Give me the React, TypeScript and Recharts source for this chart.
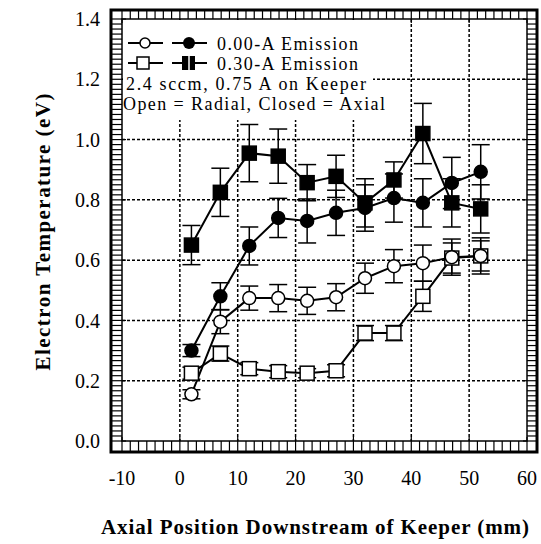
import { LineChart, Line, XAxis, YAxis, CartesianGrid, ErrorBar } from "recharts";

// axial position (mm) of each probe station
const positions = [2, 7, 12, 17, 22, 27, 32, 37, 42, 47, 52];

// electron temperature (eV) and uncertainty for each run
const axial030 = [0.65, 0.825, 0.955, 0.945, 0.857, 0.878, 0.79, 0.866, 1.02, 0.79, 0.77];
const axial030Err = [0.065, 0.08, 0.095, 0.09, 0.06, 0.07, 0.08, 0.06, 0.1, 0.08, 0.08];
const axial000 = [0.3, 0.48, 0.647, 0.74, 0.73, 0.757, 0.773, 0.806, 0.79, 0.856, 0.893];
const axial000Err = [0.02, 0.045, 0.063, 0.065, 0.073, 0.075, 0.077, 0.08, 0.08, 0.085, 0.09];
const radial000 = [0.155, 0.396, 0.474, 0.474, 0.465, 0.477, 0.54, 0.58, 0.59, 0.61, 0.614];
const radial000Err = [0.015, 0.04, 0.04, 0.045, 0.045, 0.045, 0.05, 0.055, 0.06, 0.06, 0.06];
const radial030 = [0.225, 0.29, 0.24, 0.23, 0.225, 0.233, 0.358, 0.358, 0.48, 0.607, 0.614];
const radial030Err = [0.02, 0.025, 0.02, 0.02, 0.015, 0.02, 0.025, 0.025, 0.05, 0.05, 0.05];

const X_DOMAIN: [number, number] = [-10, 60];
const Y_DOMAIN: [number, number] = [0, 1.4];
const xMajor = [-10, 0, 10, 20, 30, 40, 50, 60];
const yMajor = [0, 0.2, 0.4, 0.6, 0.8, 1.0, 1.2, 1.4];
const xGrid = [0, 10, 20, 30, 40, 50];
const yGrid = [0.2, 0.4, 0.6, 0.8, 1.0, 1.2];

// minor ticks: 7 per x division, 12 per y division
const X_MINOR = 7;
const Y_MINOR = 12;

const data = positions.map((x, i) => ({
  x,
  axial030: axial030[i],
  axial030Err: axial030Err[i],
  axial000: axial000[i],
  axial000Err: axial000Err[i],
  radial000: radial000[i],
  radial000Err: radial000Err[i],
  radial030: radial030[i],
  radial030Err: radial030Err[i],
}));

// plot box in page pixels; the outer frame sits a band outside it
const W = 541;
const H = 544;
const BOX = { left: 122, right: 527, top: 19, bottom: 441 };
const BAND = { left: 11, right: 10, top: 9, bottom: 11 };

const FONT = "Liberation Serif, Times New Roman, serif";

const px = (v: number) =>
  BOX.left + ((v - X_DOMAIN[0]) / (X_DOMAIN[1] - X_DOMAIN[0])) * (BOX.right - BOX.left);
const py = (v: number) =>
  BOX.bottom - ((v - Y_DOMAIN[0]) / (Y_DOMAIN[1] - Y_DOMAIN[0])) * (BOX.bottom - BOX.top);

// grid lines only at the major divisions, placed inside the plot offset
const gridY = ({ offset }: any) =>
  yGrid.map((v) => offset.top + offset.height * (1 - (v - Y_DOMAIN[0]) / (Y_DOMAIN[1] - Y_DOMAIN[0])));
const gridX = ({ offset }: any) =>
  xGrid.map((v) => offset.left + (offset.width * (v - X_DOMAIN[0])) / (X_DOMAIN[1] - X_DOMAIN[0]));

const XLabel = (p: any) => (
  <text x={p.x} y={p.y} dy="0.71em" textAnchor="middle" fontFamily={FONT} fontSize={20} fill="#000">
    {String(p.payload.value)}
  </text>
);

const YLabel = (p: any) => (
  <text x={p.x} y={p.y} dy="0.355em" textAnchor="end" fontFamily={FONT} fontSize={20} fill="#000">
    {Number(p.payload.value).toFixed(1)}
  </text>
);

const circle = (filled: boolean) => (p: any) => (
  <circle
    key={`c${p.index}`}
    cx={p.cx}
    cy={p.cy}
    r={6.5}
    fill={filled ? "#000" : "#fff"}
    stroke="#000"
    strokeWidth={1.5}
  />
);

const square = (filled: boolean) => (p: any) => (
  <rect
    key={`s${p.index}`}
    x={p.cx - 7}
    y={p.cy - 7}
    width={14}
    height={14}
    fill={filled ? "#000" : "#fff"}
    stroke="#000"
    strokeWidth={1.5}
  />
);

// the ruled "ladder" border: inner box, outer box and ticks joining them
function Frame() {
  const marks = [];
  const xSpan = xMajor.length - 1;
  for (let i = 0; i <= xSpan * X_MINOR; i++) {
    const major = i % X_MINOR === 0;
    const x = px(X_DOMAIN[0] + (i * 10) / X_MINOR);
    const inset = major ? 4 : 0;
    marks.push(<line key={`b${i}`} x1={x} x2={x} y1={BOX.bottom - inset} y2={BOX.bottom + BAND.bottom} />);
    marks.push(<line key={`t${i}`} x1={x} x2={x} y1={BOX.top + inset} y2={BOX.top - BAND.top} />);
  }
  const ySpan = yMajor.length - 1;
  for (let i = 0; i <= ySpan * Y_MINOR; i++) {
    const major = i % Y_MINOR === 0;
    const y = py(Y_DOMAIN[0] + (i * 0.2) / Y_MINOR);
    const inset = major ? 4 : 0;
    marks.push(<line key={`l${i}`} x1={BOX.left + inset} x2={BOX.left - BAND.left} y1={y} y2={y} />);
    marks.push(<line key={`r${i}`} x1={BOX.right - inset} x2={BOX.right + BAND.right} y1={y} y2={y} />);
  }
  return (
    <g fill="none" stroke="#000">
      <g strokeWidth={1.2}>{marks}</g>
      <rect
        x={BOX.left}
        y={BOX.top}
        width={BOX.right - BOX.left}
        height={BOX.bottom - BOX.top}
        strokeWidth={1.5}
      />
      <rect
        x={BOX.left - BAND.left}
        y={BOX.top - BAND.top}
        width={BOX.right - BOX.left + BAND.left + BAND.right}
        height={BOX.bottom - BOX.top + BAND.top + BAND.bottom}
        strokeWidth={3}
      />
    </g>
  );
}

export default function App() {
  return (
    <div style={{ position: "absolute", left: 0, top: 0, width: W, height: H, background: "#fff" }}>
      <LineChart
        width={W}
        height={H}
        data={data}
        margin={{ top: BOX.top, right: W - BOX.right, bottom: 0, left: 0 }}
      >
        <CartesianGrid
          stroke="#000"
          strokeWidth={1.5}
          strokeDasharray="3 2"
          horizontalCoordinatesGenerator={gridY}
          verticalCoordinatesGenerator={gridX}
        />
        <XAxis
          dataKey="x"
          type="number"
          domain={X_DOMAIN}
          ticks={xMajor}
          interval={0}
          height={H - BOX.bottom}
          tickSize={11}
          tickMargin={19}
          tickLine={false}
          axisLine={false}
          tick={XLabel}
        />
        <YAxis
          type="number"
          domain={Y_DOMAIN}
          ticks={yMajor}
          interval={0}
          width={BOX.left}
          tickSize={11}
          tickMargin={11}
          tickLine={false}
          axisLine={false}
          tick={YLabel}
        />
        <Line dataKey="axial030" type="linear" stroke="#000" strokeWidth={2} dot={square(true)} isAnimationActive={false}>
          <ErrorBar dataKey="axial030Err" direction="y" width={9} stroke="#000" strokeWidth={1.5} />
        </Line>
        <Line dataKey="axial000" type="linear" stroke="#000" strokeWidth={2} dot={circle(true)} isAnimationActive={false}>
          <ErrorBar dataKey="axial000Err" direction="y" width={9} stroke="#000" strokeWidth={1.5} />
        </Line>
        <Line dataKey="radial030" type="linear" stroke="#000" strokeWidth={2} dot={square(false)} isAnimationActive={false}>
          <ErrorBar dataKey="radial030Err" direction="y" width={9} stroke="#000" strokeWidth={1.5} />
        </Line>
        <Line dataKey="radial000" type="linear" stroke="#000" strokeWidth={2} dot={circle(false)} isAnimationActive={false}>
          <ErrorBar dataKey="radial000Err" direction="y" width={9} stroke="#000" strokeWidth={1.5} />
        </Line>
      </LineChart>

      <svg width={W} height={H} style={{ position: "absolute", left: 0, top: 0, pointerEvents: "none" }}>
        <Frame />

        {/* legend panel */}
        <rect x={BOX.left + 1} y={BOX.top + 1} width={250} height={100} fill="#fff" />
        <g stroke="#000" strokeWidth={2}>
          <line x1={128} y1={43} x2={163} y2={43} />
          <line x1={172} y1={43} x2={207} y2={43} />
          <line x1={128} y1={63} x2={163} y2={63} />
          <line x1={172} y1={63} x2={207} y2={63} />
        </g>
        <circle cx={145} cy={43} r={5} fill="#fff" stroke="#000" strokeWidth={1.5} />
        <circle cx={189} cy={43} r={6} fill="#000" />
        <rect x={137} y={57} width={12} height={12} fill="#fff" stroke="#000" strokeWidth={1.5} />
        <rect x={182} y={56} width={13} height={14} fill="#000" />
        <line x1={189} y1={56} x2={189} y2={70} stroke="#fff" strokeWidth={1.5} />
        <g fontFamily={FONT} fontSize={18} fill="#000">
          <text x={217} y={50} textLength={141}>0.00-A Emission</text>
          <text x={217} y={70} textLength={141}>0.30-A Emission</text>
          <text x={126} y={90} textLength={240}>2.4 sccm, 0.75 A on Keeper</text>
          <text x={123} y={110} textLength={262}>Open = Radial, Closed = Axial</text>
        </g>

        {/* axis titles */}
        <text
          x={315}
          y={534}
          textAnchor="middle"
          fontFamily={FONT}
          fontSize={21}
          fontWeight="bold"
          fill="#000"
          textLength={428}
        >
          Axial Position Downstream of Keeper (mm)
        </text>
        <text
          transform="translate(50, 232) rotate(-90)"
          textAnchor="middle"
          fontFamily={FONT}
          fontSize={21}
          fontWeight="bold"
          fill="#000"
          textLength={277}
        >
          Electron Temperature (eV)
        </text>
      </svg>
    </div>
  );
}
